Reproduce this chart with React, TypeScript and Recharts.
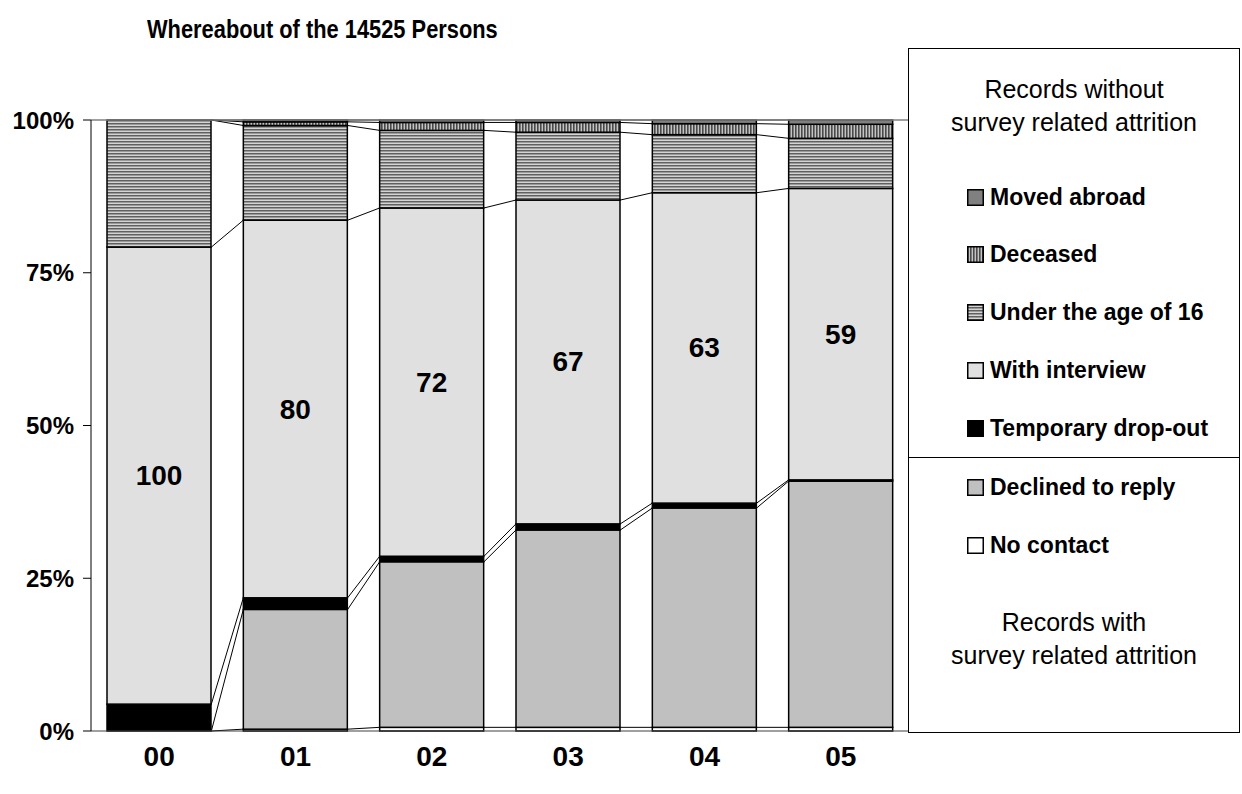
import React from "react";
import {
  BarChart,
  Bar,
  XAxis,
  YAxis,
  ReferenceLine,
  LabelList,
} from "recharts";

const CATEGORIES = ["00", "01", "02", "03", "04", "05"];

// shares in percent, bottom of the stack first
const NO_CONTACT = [0, 0.3, 0.6, 0.6, 0.6, 0.6];
const DECLINED = [0, 19.6, 27.1, 32.3, 35.9, 40.3];
const TEMP_DROPOUT = [4.4, 1.9, 0.9, 1.0, 0.8, 0.2];
const WITH_INTERVIEW = [74.8, 61.8, 57.0, 53.0, 50.8, 47.7];
const UNDER_16 = [20.8, 15.5, 12.7, 11.1, 9.5, 8.2];
const DECEASED = [0, 0.6, 1.3, 1.6, 1.8, 2.3];
const MOVED_ABROAD = [0, 0.3, 0.4, 0.4, 0.6, 0.7];

const BAR_LABELS = ["100", "80", "72", "67", "63", "59"];
const Y_TICKS = [0, 25, 50, 75, 100];

const FONT = '"Liberation Sans", Arial, sans-serif';
const GAP = 16;

const SERIES = [
  { key: "noContact", name: "No contact", values: NO_CONTACT, fill: "#ffffff" },
  { key: "declined", name: "Declined to reply", values: DECLINED, fill: "#c0c0c0" },
  { key: "tempDropout", name: "Temporary drop-out", values: TEMP_DROPOUT, fill: "#000000" },
  { key: "withInterview", name: "With interview", values: WITH_INTERVIEW, fill: "#e0e0e0" },
  { key: "under16", name: "Under the age of 16", values: UNDER_16, fill: "url(#hStripe)" },
  { key: "deceased", name: "Deceased", values: DECEASED, fill: "url(#vStripe)" },
  { key: "movedAbroad", name: "Moved abroad", values: MOVED_ABROAD, fill: "#808080" },
];

const data = CATEGORIES.map((year, i) => {
  const row: Record<string, any> = { year, label: BAR_LABELS[i] };
  SERIES.forEach((s) => (row[s.key] = s.values[i]));
  return row;
});

// cumulative top of series number s in bar i
const cumTop = (s: number, i: number) => {
  let sum = 0;
  for (let k = 0; k <= s; k++) sum += SERIES[k].values[i];
  return sum;
};

const makeShape = (s: number) => (props: any) => {
  const { x, y, width, height, index, background, fill } = props;
  if (x == null || y == null) return null;
  let y1: number | null = null;
  if (index > 0) {
    const prev = cumTop(s, index - 1);
    if (background && typeof background.height === "number" && background.height > 0) {
      y1 = background.y + background.height * (1 - prev / 100);
    } else {
      const seg = SERIES[s].values[index];
      if (seg > 0) {
        const ppu = height / seg;
        const base = y + height + (cumTop(s, index) - seg) * ppu;
        y1 = base - prev * ppu;
      }
    }
  }
  return (
    <g>
      {height > 0 && (
        <rect x={x} y={y} width={width} height={height} fill={fill} stroke="#000" strokeWidth={1.5} />
      )}
      {y1 != null && (
        <line x1={x - 2 * GAP} y1={y1} x2={x} y2={y} stroke="#000" strokeWidth={1} />
      )}
    </g>
  );
};

const renderBarLabel = (props: any) => {
  const { x, y, width, height, index } = props;
  return (
    <text
      x={x + width / 2}
      y={y + height / 2}
      textAnchor="middle"
      dominantBaseline="central"
      fontFamily={FONT}
      fontWeight="bold"
      fontSize={28}
      fill="#000"
    >
      {BAR_LABELS[index]}
    </text>
  );
};

const Swatch = ({ fill }: { fill: string }) => (
  <svg width={17} height={17} style={{ marginRight: 6, flex: "none" }}>
    <rect x={0.75} y={0.75} width={15.5} height={15.5} fill={fill} stroke="#000" strokeWidth={1.5} />
  </svg>
);

const UPPER = ["movedAbroad", "deceased", "under16", "withInterview", "tempDropout"];
const UPPER_Y = [196, 253, 311, 369, 427];
const LOWER = ["declined", "noContact"];
const LOWER_Y = [486, 544];

const BOX_LEFT = 908;
const BOX_TOP = 48;

function LegendBox() {
  const item = (key: string, cy: number) => {
    const s = SERIES.find((d) => d.key === key)!;
    return (
      <div
        key={key}
        style={{
          position: "absolute",
          left: 966 - BOX_LEFT,
          top: cy - 12 - BOX_TOP,
          height: 24,
          lineHeight: "24px",
          display: "flex",
          alignItems: "center",
          fontFamily: FONT,
          fontWeight: "bold",
          fontSize: 23,
          whiteSpace: "nowrap",
        }}
      >
        <Swatch fill={s.fill} />
        {s.name}
      </div>
    );
  };
  const header = (lines: string[], top: number) => (
    <div
      style={{
        position: "absolute",
        left: 0,
        width: "100%",
        top: top - BOX_TOP,
        textAlign: "center",
        fontFamily: FONT,
        fontSize: 25,
        lineHeight: "33px",
      }}
    >
      {lines.map((l) => (
        <div key={l}>{l}</div>
      ))}
    </div>
  );
  return (
    <div
      style={{
        position: "absolute",
        left: BOX_LEFT,
        top: BOX_TOP,
        width: 332,
        height: 685,
        border: "1.5px solid #000",
        boxSizing: "border-box",
        background: "#fff",
      }}
    >
      {header(["Records without", "survey related attrition"], 72)}
      {UPPER.map((k, i) => item(k, UPPER_Y[i]))}
      <div
        style={{
          position: "absolute",
          left: 0,
          width: "100%",
          top: 457 - BOX_TOP - 1,
          borderTop: "1.5px solid #000",
        }}
      />
      {LOWER.map((k, i) => item(k, LOWER_Y[i]))}
      {header(["Records with", "survey related attrition"], 605)}
    </div>
  );
}

export default function App() {
  return (
    <div style={{ position: "relative", width: 1242, height: 794, background: "#fff" }}>
      <style>{"body{margin:0}"}</style>
      <div
        style={{
          position: "absolute",
          left: 147,
          top: 16,
          fontFamily: FONT,
          fontWeight: "bold",
          fontSize: 26,
          lineHeight: "26px",
          whiteSpace: "nowrap",
          transform: "scaleX(0.84)",
          transformOrigin: "left center",
        }}
      >
        Whereabout of the 14525 Persons
      </div>
      <BarChart
        width={1242}
        height={794}
        data={data}
        margin={{ top: 120, right: 333, bottom: 0, left: 0 }}
        barCategoryGap={GAP}
      >
        <defs>
          <pattern id="hStripe" patternUnits="userSpaceOnUse" width={4} height={3}>
            <rect x={0} y={0} width={4} height={3} fill="#d4d4d4" />
            <rect x={0} y={0} width={4} height={1.5} fill="#606060" />
          </pattern>
          <pattern id="vStripe" patternUnits="userSpaceOnUse" width={3} height={4}>
            <rect x={0} y={0} width={3} height={4} fill="#c4c4c4" />
            <rect x={0} y={0} width={1.6} height={4} fill="#4a4a4a" />
          </pattern>
        </defs>
        <XAxis
          dataKey="year"
          height={63}
          tickLine={false}
          tickSize={0}
          tickMargin={15}
          axisLine={{ stroke: "#404040", strokeWidth: 1 }}
          tick={{ fontFamily: FONT, fontWeight: "bold", fontSize: 28, fill: "#000" }}
        />
        <YAxis
          width={91}
          domain={[0, 100]}
          ticks={Y_TICKS}
          tickFormatter={(v: number) => `${v}%`}
          tickSize={8}
          tickMargin={9}
          axisLine={{ stroke: "#000", strokeWidth: 1 }}
          tickLine={{ stroke: "#000", strokeWidth: 1 }}
          tick={{ fontFamily: FONT, fontWeight: "bold", fontSize: 24, fill: "#000" }}
        />
        <ReferenceLine y={100} stroke="#808080" strokeWidth={1.5} />
        {SERIES.map((s, si) => (
          <Bar
            key={s.key}
            dataKey={s.key}
            name={s.name}
            stackId="a"
            fill={s.fill}
            isAnimationActive={false}
            shape={makeShape(si)}
          >
            {s.key === "withInterview" && (
              <LabelList dataKey="label" content={renderBarLabel} />
            )}
          </Bar>
        ))}
      </BarChart>
      <LegendBox />
    </div>
  );
}
